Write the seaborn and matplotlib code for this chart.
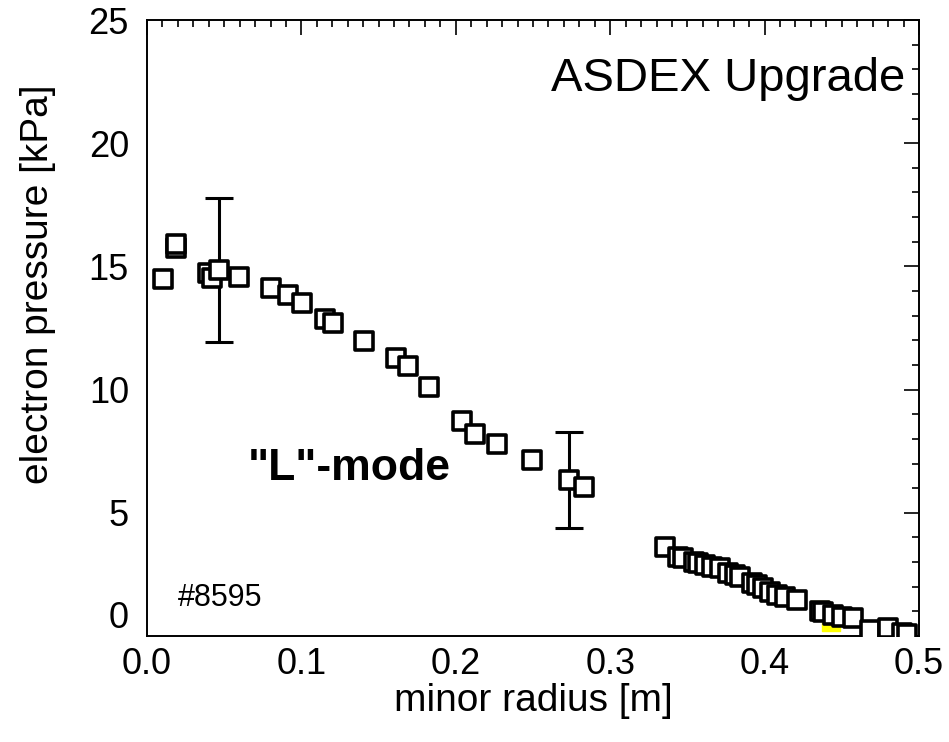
import numpy as np
import pandas as pd
import matplotlib
matplotlib.use("Agg")
import matplotlib.pyplot as plt
from matplotlib.ticker import MultipleLocator, FormatStrFormatter
import seaborn as sns

# Electron pressure profile, shot #8595 ("L"-mode)
radius = [0.0106, 0.0186, 0.0190, 0.0397, 0.0419, 0.0466, 0.0596, 0.0803,
          0.0915, 0.1006, 0.1153, 0.1203, 0.1407, 0.1613, 0.1693, 0.1824,
          0.2042, 0.2122, 0.2265, 0.2491, 0.2733, 0.2830,
          0.3355, 0.3440, 0.3474, 0.3540, 0.3570, 0.3614, 0.3657, 0.3710,
          0.3765, 0.3808, 0.3840, 0.3916, 0.3949, 0.3992, 0.4035, 0.4078,
          0.4132, 0.4208, 0.4359, 0.4380, 0.4445, 0.4500, 0.4575, 0.4680,
          0.4800, 0.4888, 0.4920]
pressure = [14.48, 15.75, 15.90, 14.74, 14.52, 14.85, 14.58, 14.12,
            13.84, 13.50, 12.87, 12.72, 11.98, 11.27, 10.96, 10.12,
            8.71, 8.21, 7.79, 7.14, 6.33, 6.03,
            3.62, 3.22, 3.15, 3.02, 2.96, 2.88, 2.81, 2.75,
            2.57, 2.48, 2.41, 2.14, 2.07, 1.94, 1.80, 1.66,
            1.60, 1.46, 1.03, 0.96, 0.85, 0.78, 0.72, 0.24,
            0.31, 0.13, 0.10]

# Representative error bars
err_radius = [0.0466, 0.2733]
err_pressure = [14.85, 6.33]
err_size = [2.93, 1.96]

# Highlighted points near the edge
hl_radius = [0.4359, 0.4430]
hl_pressure = [1.05, 0.55]

df = pd.DataFrame({"r": radius, "p": pressure})

sns.set_style("white")
plt.rcParams["font.family"] = ["Liberation Sans", "DejaVu Sans"]
plt.rcParams.update({"text.color": "black", "axes.labelcolor": "black",
                     "xtick.color": "black", "ytick.color": "black"})

fig = plt.figure(figsize=(9.49, 7.42), dpi=100)
ax = fig.add_axes([0.1549, 0.1429, 0.8135, 0.8301])

ax.errorbar(err_radius, err_pressure, yerr=err_size, fmt="none",
            ecolor="black", elinewidth=2.2, capsize=10, capthick=2.2, zorder=2)

ax.scatter(hl_radius, hl_pressure, marker="s", s=170, color="#ffff00",
           edgecolor="#ffff00", zorder=2.5)

sns.scatterplot(data=df, x="r", y="p", ax=ax, marker="s", s=170,
                facecolor="white", edgecolor="black", linewidth=2.6,
                zorder=3, legend=False)

ax.set_xlim(0, 0.5)
ax.set_ylim(0, 25)
ax.xaxis.set_major_locator(MultipleLocator(0.1))
ax.xaxis.set_minor_locator(MultipleLocator(0.01))
ax.yaxis.set_major_locator(MultipleLocator(5))
ax.yaxis.set_minor_locator(MultipleLocator(1))
ax.xaxis.set_major_formatter(FormatStrFormatter("%.1f"))

ax.tick_params(which="both", direction="in", top=True, right=True, width=1.2)
ax.tick_params(which="major", length=11, labelsize=26)
ax.tick_params(axis="x", which="major", pad=8)
ax.tick_params(axis="y", which="major", pad=13)
ax.tick_params(which="minor", length=5)

for side in ax.spines.values():
    side.set_color("black")
    side.set_linewidth(1.4)

ax.set_xlabel("minor radius [m]", fontsize=28)
ax.set_ylabel("electron pressure [kPa]", fontsize=28)
ax.xaxis.set_label_coords(0.5, -0.076)
ax.yaxis.set_label_coords(-0.118, 0.571)

ax.text(0.491, 22.6, "ASDEX Upgrade", fontsize=34, ha="right", va="center")
ax.text(0.065, 6.8, "\"L\"-mode", fontsize=32, fontweight="bold",
        ha="left", va="center")
ax.text(0.020, 1.54, "#8595", fontsize=22, ha="left", va="center")

# Lift the "0" on the pressure axis clear of the radius labels
fig.canvas.draw()
for tick in ax.yaxis.get_major_ticks():
    if abs(tick.get_loc()) < 1e-9:
        tick.label1.set_verticalalignment("bottom")

fig.savefig("out.png", dpi=100, facecolor="white")
